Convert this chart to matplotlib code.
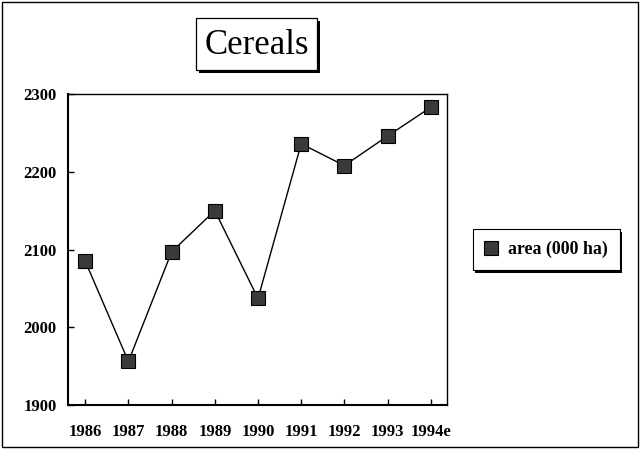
import matplotlib
matplotlib.use("Agg")
import matplotlib.pyplot as plt
from matplotlib.patches import Rectangle

years = ["1986", "1987", "1988", "1989", "1990", "1991", "1992", "1993", "1994e"]
area = [2085, 1956, 2097, 2150, 2037, 2236, 2208, 2246, 2283]
yticks = [1900, 2000, 2100, 2200, 2300]
title = "Cereals"
series_label = "area (000 ha)"

plt.rcParams['font.family'] = ['Liberation Serif', 'DejaVu Serif']

fig = plt.figure(figsize=(6.41, 4.5), dpi=100)
ax = fig.add_axes([0.106, 0.10, 0.591, 0.691])

x = list(range(len(years)))
ax.plot(x, area, color='black', lw=1.0, marker='s', markersize=10,
        markerfacecolor='#3a3a3a', markeredgecolor='black', markeredgewidth=0.8,
        label=series_label)
ax.set_xlim(-0.4, 8.37)
ax.set_ylim(1900, 2300)
ax.set_yticks(yticks)
ax.set_xticks(x)
ax.set_xticklabels(years)
ax.tick_params(axis='both', direction='in', length=4, width=1, labelsize=12)
ax.tick_params(axis='x', pad=13.5)
ax.tick_params(axis='y', pad=8)
for s in ax.spines.values():
    s.set_linewidth(1.0)
ax.spines['left'].set_linewidth(1.5)
ax.spines['bottom'].set_linewidth(1.5)
for lbl in ax.get_xticklabels() + ax.get_yticklabels():
    lbl.set_fontweight('bold')

leg = ax.legend(loc='center left', bbox_to_anchor=(1.045, 0.50), frameon=True,
                fancybox=False, edgecolor='black', handlelength=0.8,
                handletextpad=0.55, borderpad=0.65, borderaxespad=0.5,
                prop={'weight': 'bold', 'size': 12.8},
                shadow={'color': 'black', 'alpha': 1.0, 'lw': 0})
leg.get_frame().set_linewidth(0.8)
leg.legend_handles[0].set_linestyle('none')

W, H = 641, 450
def fr(x0, y0, w, h):
    return (x0 / W, 1 - (y0 + h) / H), w / W, h / H

# title box with shadow
xy, w, h = fr(199, 21, 121, 52)
fig.patches.append(Rectangle(xy, w, h, transform=fig.transFigure, fc='black', ec='black', lw=0, zorder=1))
xy, w, h = fr(196, 18, 121, 52)
fig.patches.append(Rectangle(xy, w, h, transform=fig.transFigure, fc='white', ec='black', lw=0.9, zorder=2))
fig.text(256.5 / W, 1 - 45 / H, title, ha='center', va='center', fontsize=25, zorder=3)

# outer frame
xy, w, h = fr(2, 2, 636, 445)
fig.patches.append(Rectangle(xy, w, h, transform=fig.transFigure, fc='none', ec='black', lw=1.0, zorder=0))

fig.savefig("out.png", dpi=100)
